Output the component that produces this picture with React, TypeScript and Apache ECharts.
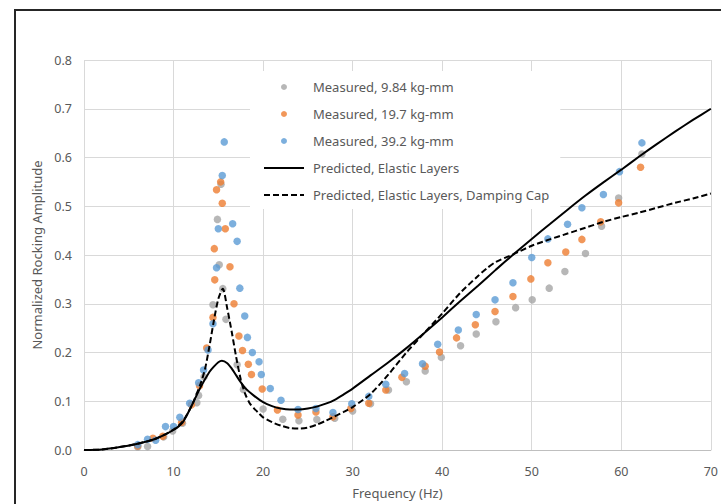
import React, { useEffect, useRef } from "react";
import * as echarts from "echarts";

// Tick settings
const xTicks = { min: 0, max: 70, interval: 10 };
const yTicks = { min: 0, max: 0.8, interval: 0.1 };

const seriesNames = [
  "Measured, 9.84 kg-mm",
  "Measured, 19.7 kg-mm",
  "Measured, 39.2 kg-mm",
  "Predicted, Elastic Layers",
  "Predicted, Elastic Layers, Damping Cap",
];

// Measured, 9.84 kg-mm  [Hz, amplitude]
const measured984: [number, number][] = [
  [6.0, 0.006], [7.1, 0.007], [8.9, 0.027], [9.9, 0.039], [11.0, 0.055],
  [12.6, 0.097], [12.8, 0.112], [13.4, 0.15], [14.4, 0.298], [14.9, 0.473],
  [15.1, 0.38], [15.3, 0.545], [15.5, 0.331], [15.85, 0.268], [17.1, 0.175],
  [17.8, 0.124], [20.0, 0.084], [22.2, 0.063], [24.0, 0.06], [26.0, 0.0625],
  [28.0, 0.065], [30.0, 0.08], [32.0, 0.095], [34.0, 0.123], [36.0, 0.14],
  [38.1, 0.162], [39.9, 0.19], [42.05, 0.214], [43.8, 0.238], [46.0, 0.263],
  [48.2, 0.292], [50.05, 0.308], [51.95, 0.332], [53.7, 0.366], [56.0, 0.403],
  [57.8, 0.459], [59.7, 0.517], [62.3, 0.607],
];

// Measured, 19.7 kg-mm
const measured197: [number, number][] = [
  [6.0, 0.008], [7.7, 0.024], [8.8, 0.028], [10.9, 0.057], [12.0, 0.093],
  [12.9, 0.132], [13.7, 0.209], [14.4, 0.272], [14.6, 0.349], [14.55, 0.413],
  [14.8, 0.534], [15.26, 0.55], [15.44, 0.506], [15.78, 0.454], [16.3, 0.376],
  [16.75, 0.3], [17.3, 0.234], [17.7, 0.204], [18.35, 0.176], [18.7, 0.155],
  [19.9, 0.125], [21.6, 0.082], [23.9, 0.072], [25.9, 0.078], [27.8, 0.068],
  [29.8, 0.085], [31.8, 0.096], [33.7, 0.123], [35.5, 0.149], [38.1, 0.172],
  [39.7, 0.201], [41.6, 0.23], [43.7, 0.257], [45.9, 0.284], [47.9, 0.315],
  [49.9, 0.351], [51.8, 0.384], [53.8, 0.406], [55.6, 0.432], [57.7, 0.468],
  [59.7, 0.507], [62.15, 0.58],
];

// Measured, 39.2 kg-mm
const measured392: [number, number][] = [
  [6.0, 0.011], [7.1, 0.022], [8.0, 0.02], [9.1, 0.048], [10.0, 0.048],
  [10.7, 0.067], [11.8, 0.096], [12.8, 0.138], [13.35, 0.164], [13.85, 0.205],
  [14.4, 0.259], [14.8, 0.374], [15.0, 0.454], [15.44, 0.563], [15.66, 0.632],
  [16.6, 0.464], [17.1, 0.428], [17.4, 0.332], [17.95, 0.275], [18.25, 0.231],
  [18.8, 0.2], [19.55, 0.181], [19.8, 0.155], [20.8, 0.126], [22.0, 0.102],
  [23.9, 0.083], [25.9, 0.085], [27.8, 0.077], [29.9, 0.095], [31.8, 0.11],
  [33.7, 0.135], [35.8, 0.157], [37.8, 0.177], [39.5, 0.217], [41.8, 0.246],
  [43.8, 0.278], [45.9, 0.308], [47.9, 0.343], [50.0, 0.395], [51.8, 0.433],
  [54.0, 0.463], [55.6, 0.497], [58.0, 0.524], [59.8, 0.571], [62.3, 0.63],
];

// Predicted, Elastic Layers
const predictedElastic: [number, number][] = [
  [0, 0], [2, 0.001], [4, 0.006], [6, 0.013], [8, 0.023], [10, 0.041],
  [11, 0.056], [12, 0.09], [13, 0.128], [14, 0.16], [14.5, 0.171], [15, 0.18],
  [15.4, 0.183], [16, 0.178], [16.5, 0.167], [17, 0.153], [17.5, 0.139],
  [18, 0.127], [19, 0.111], [20, 0.098], [21, 0.09], [22, 0.085], [23, 0.083],
  [24, 0.083], [25, 0.085], [26, 0.089], [27, 0.095], [28, 0.103], [29, 0.114],
  [30, 0.126], [32, 0.153], [34, 0.18], [36, 0.209], [38, 0.24], [40, 0.272],
  [42, 0.305], [44, 0.337], [46, 0.37], [48, 0.402], [50, 0.433], [52, 0.463],
  [54, 0.493], [56, 0.522], [58, 0.549], [60, 0.575], [62, 0.602], [64, 0.628],
  [66, 0.653], [68, 0.677], [70, 0.7],
];

// Predicted, Elastic Layers, Damping Cap
const predictedDamping: [number, number][] = [
  [0, 0], [2, 0.001], [4, 0.006], [6, 0.013], [8, 0.023], [10, 0.042],
  [11, 0.058], [12, 0.09], [13, 0.135], [13.5, 0.165], [14, 0.212],
  [14.5, 0.265], [15, 0.31], [15.5, 0.331], [16, 0.29], [16.5, 0.242],
  [17, 0.19], [17.5, 0.145], [18, 0.115], [18.5, 0.096], [19, 0.085],
  [19.5, 0.076], [20, 0.067], [21, 0.057], [22, 0.05], [23, 0.045], [24, 0.044],
  [25, 0.046], [26, 0.052], [27, 0.06], [28, 0.069], [29, 0.078], [30, 0.088],
  [32, 0.115], [34, 0.155], [36, 0.2], [38, 0.24], [40, 0.28], [42, 0.322],
  [44, 0.357], [45, 0.373], [46, 0.386], [48, 0.402], [50, 0.419], [52, 0.432],
  [54, 0.444], [56, 0.456], [58, 0.468], [60, 0.478], [62, 0.487], [64, 0.497],
  [66, 0.507], [68, 0.516], [70, 0.526],
];

const FONT = "'Noto Sans', 'Open Sans', sans-serif";
const TEXT = "#595959";

export default function App() {
  const ref = useRef<HTMLDivElement>(null);
  useEffect(() => {
    if (!ref.current) return;
    const chart = echarts.init(ref.current, undefined, { renderer: "svg" });
    const scatter = (name: string, data: [number, number][], color: string) => ({
      name,
      type: "scatter",
      data,
      symbol: "circle",
      symbolSize: 7.5,
      itemStyle: { color },
      z: 2,
    });
    const line = (name: string, data: [number, number][], type: any) => ({
      name,
      type: "line",
      data,
      smooth: 0.25,
      symbol: "none",
      showSymbol: false,
      lineStyle: { color: "#000", width: 2, type },
      itemStyle: { color: "#000" },
      z: 3,
    });
    chart.setOption({
      animation: false,
      backgroundColor: "#fff",
      textStyle: { fontFamily: FONT },
      grid: { left: 84, top: 60, right: 10, bottom: 47, containLabel: false },
      graphic: [
        {
          type: "rect",
          shape: { x: 15, y: 10, width: 780, height: 600 },
          style: { fill: "none", stroke: "#262626", lineWidth: 2 },
          silent: true,
          z: 10,
        },
      ],
      legend: {
        orient: "vertical",
        left: 250,
        top: 71,
        padding: [8, 11, 6, 13],
        backgroundColor: "#fff",
        itemWidth: 40,
        itemHeight: 6,
        itemGap: 11,
        data: seriesNames.map((n, i) =>
          i >= 3 ? { name: n, itemStyle: { opacity: 0 } } : { name: n }
        ),
        textStyle: {
          color: TEXT,
          fontSize: 13,
          fontFamily: FONT,
          lineHeight: 16,
          padding: [0, 0, 0, 4],
        },
        z: 5,
      },
      xAxis: {
        type: "value",
        min: xTicks.min,
        max: xTicks.max,
        interval: xTicks.interval,
        name: "Frequency (Hz)",
        nameLocation: "middle",
        nameGap: 36,
        nameTextStyle: { color: TEXT, fontSize: 13, fontFamily: FONT },
        axisLine: { show: true, lineStyle: { color: "#bfbfbf", width: 1 } },
        axisTick: { show: false },
        axisLabel: { color: TEXT, fontSize: 12.5, margin: 15, fontFamily: FONT },
        splitLine: { show: true, lineStyle: { color: "#d9d9d9", width: 1 } },
      },
      yAxis: {
        type: "value",
        min: yTicks.min,
        max: yTicks.max,
        interval: yTicks.interval,
        name: "Normalized Rocking Amplitude",
        nameLocation: "middle",
        nameGap: 36,
        nameTextStyle: { color: TEXT, fontSize: 13, fontFamily: FONT },
        axisLine: { show: false },
        axisTick: { show: false },
        axisLabel: {
          color: TEXT,
          fontSize: 12.5,
          margin: 12,
          fontFamily: FONT,
          formatter: (v: number) => v.toFixed(1),
        },
        splitLine: { show: true, lineStyle: { color: "#d9d9d9", width: 1 } },
      },
      series: [
        scatter(seriesNames[0], measured984, "#A5A5A5"),
        scatter(seriesNames[1], measured197, "#ED7D31"),
        scatter(seriesNames[2], measured392, "#5B9BD5"),
        line(seriesNames[3], predictedElastic, "solid"),
        line(seriesNames[4], predictedDamping, [6, 3]),
      ],
    });
    return () => chart.dispose();
  }, []);
  return (
    <div
      ref={ref}
      style={{ position: "absolute", left: 0, top: 0, width: 721, height: 504 }}
    />
  );
}
